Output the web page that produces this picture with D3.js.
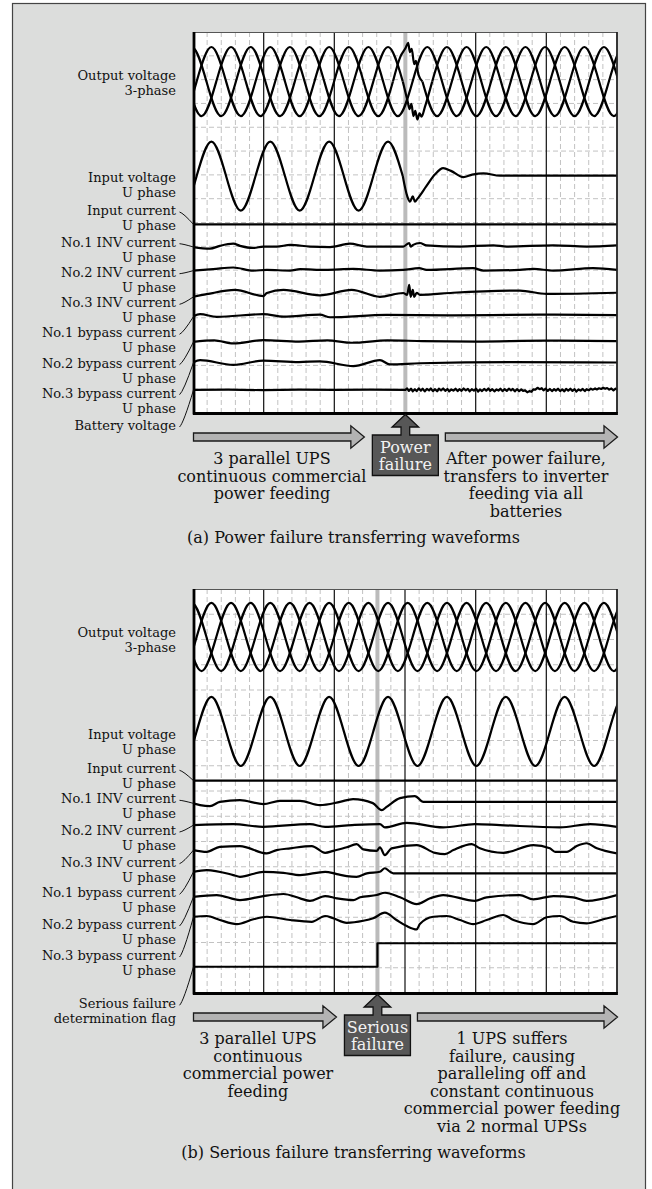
<!DOCTYPE html>
<html>
<head>
<meta charset="utf-8">
<script src="https://cdn.jsdelivr.net/npm/d3@7"></script>
<style>
  body { margin: 0; background: #fff; }
  text { font-family: "DejaVu Serif", serif; fill: #111; }
</style>
</head>
<body>
<svg id="chart" width="652" height="1189"></svg>
<script>
// time in ms, 20 ms per division (60 Hz mains); values in per unit or in grid divisions
var timeTicks = [0, 20, 40, 60, 80, 100, 120];

// sine waves, read at peaks and zero crossings
var outVoltU = [[-7.3,0],[-3.13,-1],[1.03,0],[5.2,1],[9.37,0],[13.53,-1],[17.7,0],[21.87,1],[26.03,0],[30.2,-1],[34.37,0],[38.53,1],[42.7,0],[46.87,-1],[51.03,0],[55.2,1],[59.37,0],[63.53,-1],[67.7,0],[71.87,1],[76.03,0],[80.2,-1],[84.37,0],[88.53,1],[92.7,0],[96.87,-1],[101.03,0],[105.2,1],[109.37,0],[113.53,-1],[117.7,0],[121.87,1],[126.03,0]];
var outVoltV = [[-1.74,0],[2.43,-1],[6.59,0],[10.76,1],[14.93,0],[19.09,-1],[23.26,0],[27.43,1],[31.59,0],[35.76,-1],[39.93,0],[44.09,1],[48.26,0],[52.43,-1],[56.59,0],[60.76,1],[64.93,0],[69.09,-1],[73.26,0],[77.43,1],[81.59,0],[85.76,-1],[89.93,0],[94.09,1],[98.26,0],[102.43,-1],[106.59,0],[110.76,1],[114.93,0],[119.09,-1],[123.26,0]];
var outVoltW = [[-4.52,0],[-0.35,1],[3.81,0],[7.98,-1],[12.14,0],[16.31,1],[20.48,0],[24.65,-1],[28.81,0],[32.98,1],[37.15,0],[41.31,-1],[45.48,0],[49.65,1],[53.81,0],[57.98,-1],[62.15,0],[66.31,1],[70.48,0],[74.65,-1],[78.81,0],[82.98,1],[87.15,0],[91.31,-1],[95.48,0],[99.65,1],[103.81,0],[107.98,-1],[112.15,0],[116.31,1],[120.48,0]];
var inVoltU = [[-7.3,0],[-3.13,-1],[1.03,0],[5.2,1],[9.37,0],[13.53,-1],[17.7,0],[21.87,1],[26.03,0],[30.2,-1],[34.37,0],[38.53,1],[42.7,0],[46.87,-1],[51.03,0],[55.2,1],[59.37,0],[63.53,-1],[67.7,0],[71.87,1],[76.03,0],[80.2,-1],[84.37,0],[88.53,1],[92.7,0],[96.87,-1],[101.03,0],[105.2,1],[109.37,0],[113.53,-1],[117.7,0],[121.87,1],[126.03,0]];

// (a) transients at the power failure
var outVoltUFail = [[59.37,0],[60.7,-0.55],[61.3,-0.8],[61.8,-0.65],[62.4,-1.0],[62.9,-0.85],[63.5,-1.1],[64.1,-0.92],[64.7,-1.02],[65.6,-0.75],[67.7,0]];
var outVoltVFail = [[56.59,0],[58.7,0.72],[60.2,0.98],[60.9,1.12],[61.4,0.85],[61.9,0.95],[62.6,0.5],[63.1,0.6],[63.8,0.2],[64.93,0]];
var inVoltUFail = [[59.37,0],[60.65,-0.59],[61.4,-0.74],[62.2,-0.59],[62.8,-0.74],[63.5,-0.66],[66,-0.3],[68.5,0.05],[70.8,0.23],[73,0.15],[76.5,-0.03],[79,0.04],[82.2,0.08],[86.9,0.01],[126,0.01]];

// (a) currents and battery voltage, in grid divisions
var inCurA = [[0,0],[120,0]];
var inv1A = [[0,-0.04],[4.8,-0.11],[7.6,0.01],[11.4,0.1],[13.3,0.01],[17.1,-0.08],[19.9,-0.02],[23.7,-0.02],[27.5,0.05],[33.1,-0.02],[38.8,-0.04],[44.4,0.1],[49.2,-0.02],[54.8,-0.02],[59.5,-0.02],[61.2,0.13],[61.6,-0.02],[62.3,0.05],[64.2,0.13],[66.1,0.03],[75.6,-0.02],[85,0.03],[88.8,-0.02],[102,0.03],[111.4,-0.02],[120,0.03]];
var inv2A = [[0,-0.03],[5.7,0.03],[11.4,0.1],[17.1,-0.03],[20.9,0],[27.5,-0.03],[30.3,0.03],[37.4,0],[45.4,0.04],[52.9,-0.03],[59.5,0],[64,0.07],[66.1,0],[79.3,0.07],[82.2,-0.03],[92.5,0],[96.3,0.04],[102,-0.03],[113.3,0.07],[120,0]];
var inv3A = [[0,-0.16],[3.9,-0.05],[11.9,0.13],[19.9,-0.13],[20.9,0],[25.6,0.13],[35.9,-0.1],[44.9,0.13],[52.9,-0.16],[59.5,0],[60.6,-0.08],[61.2,0.34],[61.6,-0.16],[62.2,0.13],[62.6,-0.16],[63.3,0.01],[64.2,-0.08],[73.6,0.01],[92.5,0.1],[100.1,-0.04],[120,0.01]];
var byp1A = [[0,-0.05],[2,0.05],[6.7,-0.06],[19.9,0.05],[25.6,-0.05],[35.9,0.03],[38.8,-0.08],[54.8,0.02],[72.7,0],[98.2,0.03],[120,0.01]];
var byp2A = [[0,-0.03],[6,0.03],[11.4,-0.1],[19.9,0.04],[30,-0.02],[38,0.03],[45,-0.07],[55,0.03],[65,0],[80,-0.02],[100,0.02],[120,0]];
var byp3A = [[0,0],[2,0.1],[11.4,-0.1],[19.9,0.08],[30,0.02],[35.9,0.05],[45.4,-0.15],[52.9,0.1],[55.7,-0.08],[64.2,-0.03],[90,0.02],[120,0]];
var battA = [[0,0],[10,0.01],[20,-0.01],[30,0.01],[40,0],[50,0.01],[60.1,0],[60.6,0.06],[61.1,-0.04],[61.7,0.05],[62.2,-0.06],[62.8,0.03],[63.3,-0.05],[63.9,0.06],[64.5,-0.03],[65,0.05],[65.6,-0.06],[66.2,0.04],[66.8,-0.02],[67.3,0.06],[67.9,-0.05],[68.5,0.03],[69.1,-0.06],[69.6,0.05],[70.2,-0.02],[70.8,0.06],[71.4,-0.04],[72,0.04],[72.5,-0.06],[73.1,0.02],[73.7,-0.03],[74.3,0.05],[74.9,-0.05],[75.4,0.03],[76,-0.04],[76.6,0.06],[77.2,-0.02],[77.8,0.04],[78.3,-0.06],[78.9,0.03],[79.5,-0.03],[80.1,0.05],[80.7,-0.07],[81.2,0.02],[81.8,-0.05],[82.4,0.04],[83,-0.03],[83.6,0.06],[84.1,-0.04],[84.7,0.03],[85.3,-0.06],[85.9,0.02],[86.5,-0.03],[87,0.05],[87.6,-0.05],[88.2,0.03],[88.8,-0.04],[89.4,0.05],[90,-0.02],[90.5,0.04],[91.1,-0.06],[91.7,0.03],[92.3,-0.05],[92.9,0.02],[93.4,-0.04],[94,-0.02],[94.6,-0.1],[95.2,-0.05],[95.8,-0.08],[96.3,0.02],[96.9,0.01],[97.5,0.09],[98.1,0.03],[98.7,0.07],[99.2,-0.02],[99.8,0.05],[100.4,-0.04],[101,0.04],[101.6,-0.05],[102.2,0.03],[102.7,-0.03],[103.3,0.05],[103.9,-0.05],[104.5,0.02],[105.1,-0.06],[105.6,0.04],[106.2,-0.03],[106.8,0.05],[107.4,-0.04],[108,0.03],[108.5,-0.07],[109.1,0.02],[109.7,-0.03],[110.3,0.04],[110.9,-0.05],[111.4,0.03],[112,-0.02],[112.6,0.05],[113.2,0.01],[113.8,0.06],[114.3,0.02],[114.9,0.07],[115.5,0.04],[116.1,0.09],[116.7,0.05],[117.2,0.08],[117.8,0.01],[118.4,0.06],[119,-0.02],[119.6,0.05],[120,0.01]];

// (b) currents and failure flag
var inCurB = [[0,0],[120,0]];
var inv1B = [[0,-0.05],[2,-0.12],[4.8,-0.16],[7.6,0.01],[13.3,0.08],[19.9,-0.08],[24.6,0.05],[30.3,0.05],[35.9,-0.12],[41.6,0.01],[45.3,0.12],[50.9,-0.04],[53.4,-0.32],[54.8,-0.19],[58.6,0.16],[62.8,0.24],[65.2,0.01],[120,0.01]];
var inv2B = [[0,0.02],[11.4,0.06],[19.8,-0.05],[33.1,0.06],[37.4,-0.05],[45,0.02],[52.9,0.06],[54.3,-0.07],[60.5,0.11],[70.8,-0.07],[79.8,0.06],[86.9,0.02],[103.9,-0.07],[112.4,0.06],[120,-0.05]];
var inv3B = [[0,-0.04],[3.9,-0.11],[7.6,0.09],[13.3,0.12],[20.9,-0.17],[23.7,-0.04],[27.5,0.03],[33.6,0.12],[37.4,-0.15],[39.7,-0.07],[43.5,0.07],[46.3,0.2],[48.2,-0.01],[52,-0.07],[52.9,0.07],[54.3,-0.24],[56.2,0.03],[63.3,0.16],[68.5,-0.15],[71.3,-0.2],[73.7,-0.04],[78.9,0.2],[81.2,0.03],[87.8,-0.15],[96.3,0.16],[101,0.03],[102.5,-0.11],[105.8,-0.11],[108.6,0.12],[111.4,0.23],[114.3,0.03],[120,-0.17]];
var byp1B = [[0,0.03],[3.9,0.1],[11.4,-0.1],[13.3,-0.17],[19.9,0.03],[25.6,-0.01],[30.3,-0.1],[37.4,0.03],[40.7,-0.06],[43.5,-0.14],[46.3,-0.17],[49.2,-0.03],[52.9,0.03],[54.3,0.17],[55.8,0.03],[56.7,-0.03],[120,-0.03]];
var byp2B = [[0,0.01],[6.7,0.08],[13.3,-0.12],[19.9,0.04],[25.6,0.12],[30.3,-0.05],[33.1,-0.15],[37.4,0.04],[40.7,-0.05],[45.4,-0.12],[47.3,-0.01],[52,0.08],[54.3,0.17],[58.6,-0.01],[63.3,-0.28],[67.1,-0.05],[70.8,0.08],[79.8,-0.15],[83.1,-0.01],[92.5,0.08],[96.3,-0.09],[102,0.04],[107.6,-0.01],[111.4,-0.15],[120,0.08]];
var byp3B = [[0,0.09],[3.9,0.12],[7.6,-0.04],[12.4,-0.2],[17.1,-0.01],[20.9,0.09],[27.5,-0.04],[33.6,-0.11],[37.4,0.12],[39.7,0.03],[43.5,-0.15],[48.2,-0.07],[51,0.03],[54.3,0.25],[57.6,-0.04],[60.5,-0.28],[63.3,-0.41],[64.2,-0.2],[68,0.09],[71.8,0.12],[75.6,-0.04],[79.3,-0.2],[83.1,-0.04],[87.8,0.16],[90.7,-0.04],[96.3,-0.2],[100.1,0.07],[103.9,0.12],[107.6,-0.11],[111.4,-0.17],[116.1,-0.01],[120,0.12]];
var flagB = [[0,0],[52.2,1],[120,1]];

// event times (ms)
var failTimeA = 60.1;
var failTimeB = 52.2;

// texts
var labelsA = [["Output voltage","3-phase"],["Input voltage","U phase"],["Input current","U phase"],["No.1 INV current","U phase"],["No.2 INV current","U phase"],["No.3 INV current","U phase"],["No.1 bypass current","U phase"],["No.2 bypass current","U phase"],["No.3 bypass current","U phase"],["Battery voltage"]];
var labelsB = [["Output voltage","3-phase"],["Input voltage","U phase"],["Input current","U phase"],["No.1 INV current","U phase"],["No.2 INV current","U phase"],["No.3 INV current","U phase"],["No.1 bypass current","U phase"],["No.2 bypass current","U phase"],["No.3 bypass current","U phase"],["Serious failure","determination flag"]];
var notesA = { left: ["3 parallel UPS","continuous commercial","power feeding"], box: ["Power","failure"], right: ["After power failure,","transfers to inverter","feeding via all","batteries"], caption: "(a) Power failure transferring waveforms" };
var notesB = { left: ["3 parallel UPS","continuous","commercial power","feeding"], box: ["Serious","failure"], right: ["1 UPS suffers","failure, causing","paralleling off and","constant continuous","commercial power feeding","via 2 normal UPSs"], caption: "(b) Serious failure transferring waveforms" };

var natural = d3.curveNatural, smooth = d3.curveMonotoneX, straight = d3.curveLinear;

var panelA = {
  id: "clipA", top: 32, height: 381, failAt: failTimeA, labels: labelsA, notes: notesA,
  labelY: [80, 181.7, 215, 246.7, 276.7, 307.3, 337.3, 367.7, 397.7, 430],
  leaders: [null, null, 4, 5, 6, 7, 8, 9, 10, 11],
  traces: [
    { data: outVoltU, base: 2.08, gain: 1.45, curve: natural, patch: outVoltUFail },
    { data: outVoltV, base: 2.08, gain: 1.45, curve: natural, patch: outVoltVFail },
    { data: outVoltW, base: 2.08, gain: 1.45, curve: natural },
    { data: inVoltU, base: 6.05, gain: 1.45, curve: natural, patch: inVoltUFail },
    { data: inCurA, base: 8.08, gain: 1, curve: straight },
    { data: inv1A, base: 8.99, gain: 1, curve: smooth },
    { data: inv2A, base: 9.99, gain: 1, curve: smooth },
    { data: inv3A, base: 10.96, gain: 1, curve: smooth },
    { data: byp1A, base: 11.9, gain: 1, curve: smooth },
    { data: byp2A, base: 12.98, gain: 1, curve: smooth },
    { data: byp3A, base: 13.88, gain: 1, curve: smooth },
    { data: battA, base: 15.03, gain: 1, curve: straight }
  ]
};

var panelB = {
  id: "clipB", top: 589, height: 404, failAt: failTimeB, labels: labelsB, notes: notesB,
  labelY: [637.3, 739, 773.3, 803.3, 835, 866.7, 897.3, 929, 960, 1008.3],
  leaders: [null, null, 4, 5, 6, 7, 8, 9, 10, 11],
  traces: [
    { data: outVoltU, base: 1.9, gain: 1.35, curve: natural },
    { data: outVoltV, base: 1.9, gain: 1.35, curve: natural },
    { data: outVoltW, base: 1.9, gain: 1.35, curve: natural },
    { data: inVoltU, base: 5.64, gain: 1.37, curve: natural },
    { data: inCurB, base: 7.59, gain: 1, curve: straight },
    { data: inv1B, base: 8.44, gain: 1, curve: smooth },
    { data: inv2B, base: 9.37, gain: 1, curve: smooth },
    { data: inv3B, base: 10.3, gain: 1, curve: smooth },
    { data: byp1B, base: 11.23, gain: 1, curve: smooth },
    { data: byp2B, base: 12.2, gain: 1, curve: smooth },
    { data: byp3B, base: 13.07, gain: 1, curve: smooth },
    { data: flagB, base: 14.96, gain: 0.93, curve: d3.curveStepAfter }
  ]
};

var svg = d3.select("#chart");
var plotLeft = 193, plotRight = 617;

svg.append("rect")
  .attr("x", 12.5).attr("y", 3.5).attr("width", 633).attr("height", 1200)
  .attr("fill", "#dcdddc").attr("stroke", "#444").attr("stroke-width", 1.2);

// split a trace into the clean part and the patched transient
function segments(tr) {
  if (!tr.patch) return [{ data: tr.data, curve: tr.curve }];
  var t0 = tr.patch[0][0], t1 = tr.patch[tr.patch.length - 1][0];
  return [
    { data: tr.data.filter(function(d) { return d[0] <= t0; }), curve: tr.curve },
    { data: tr.patch, curve: smooth },
    { data: tr.data.filter(function(d) { return d[0] >= t1; }), curve: tr.curve }
  ];
}

function drawPanel(p) {
  var bottom = p.top + p.height;
  var x = d3.scaleLinear().domain([0, 120]).range([plotLeft, plotRight]);
  var y = d3.scaleLinear().domain([0, 16]).range([p.top, bottom]);
  var g = svg.append("g");

  g.append("rect").attr("x", plotLeft).attr("y", p.top)
    .attr("width", plotRight - plotLeft).attr("height", p.height).attr("fill", "#fff");

  // dashed minor grid
  g.selectAll(null)
    .data(d3.range(4, 120, 4).filter(function(t) { return t % 20 !== 0; }))
    .enter().append("line")
    .attr("x1", function(t) { return x(t); }).attr("x2", function(t) { return x(t); })
    .attr("y1", p.top).attr("y2", bottom)
    .attr("stroke", "#c2c2c2").attr("stroke-width", 1).attr("stroke-dasharray", "5,3");
  g.selectAll(null)
    .data(d3.range(1, 16))
    .enter().append("line")
    .attr("x1", plotLeft).attr("x2", plotRight)
    .attr("y1", function(r) { return y(r); }).attr("y2", function(r) { return y(r); })
    .attr("stroke", "#c2c2c2").attr("stroke-width", 1).attr("stroke-dasharray", "5,3");

  // major divisions
  g.selectAll(null)
    .data(timeTicks.slice(1, -1))
    .enter().append("line")
    .attr("x1", function(t) { return x(t); }).attr("x2", function(t) { return x(t); })
    .attr("y1", p.top).attr("y2", bottom)
    .attr("stroke", "#222").attr("stroke-width", 1.3);

  // event marker
  g.append("line")
    .attr("x1", x(p.failAt)).attr("x2", x(p.failAt))
    .attr("y1", p.top).attr("y2", bottom)
    .attr("stroke", "#bbbbbb").attr("stroke-width", 4);

  svg.append("clipPath").attr("id", p.id).append("rect")
    .attr("x", plotLeft).attr("y", p.top).attr("width", plotRight - plotLeft).attr("height", p.height);

  var tg = g.append("g").attr("clip-path", "url(#" + p.id + ")");
  p.traces.forEach(function(tr) {
    var line = d3.line()
      .x(function(d) { return x(d[0]); })
      .y(function(d) { return y(tr.base - d[1] * tr.gain); });
    segments(tr).forEach(function(s) {
      tg.append("path")
        .attr("d", line.curve(s.curve)(s.data))
        .attr("fill", "none").attr("stroke", "#000")
        .attr("stroke-width", 2.2).attr("stroke-linejoin", "round");
    });
  });

  // frame
  g.append("line").attr("x1", plotLeft).attr("x2", plotRight).attr("y1", p.top + 0.5).attr("y2", p.top + 0.5)
    .attr("stroke", "#555").attr("stroke-width", 1);
  g.append("line").attr("x1", plotRight).attr("x2", plotRight).attr("y1", p.top).attr("y2", bottom)
    .attr("stroke", "#222").attr("stroke-width", 1.8);
  g.append("line").attr("x1", plotLeft + 1).attr("x2", plotLeft + 1).attr("y1", p.top).attr("y2", bottom + 1.5)
    .attr("stroke", "#000").attr("stroke-width", 2.8);
  g.append("line").attr("x1", plotLeft).attr("x2", plotRight + 0.9).attr("y1", bottom + 0.5).attr("y2", bottom + 0.5)
    .attr("stroke", "#000").attr("stroke-width", 2.8);

  // labels and leader lines
  p.labels.forEach(function(lines, i) {
    var t = g.append("text").attr("text-anchor", "end").attr("font-size", 13);
    lines.forEach(function(s, k) {
      t.append("tspan").attr("x", 176).attr("y", p.labelY[i] + k * 15).text(s);
    });
    var ti = p.leaders[i];
    if (ti !== null) {
      var tr = p.traces[ti];
      var x0 = 179.5, y0 = p.labelY[i] - 3;
      var x1 = plotLeft + 0.5, y1 = y(tr.base - tr.data[0][1] * tr.gain);
      g.append("path")
        .attr("d", "M" + x0 + "," + y0 + " Q" + (x0 + 4) + "," + (y0 + (y1 - y0) * 0.1) + " " + x1 + "," + y1)
        .attr("fill", "none").attr("stroke", "#111").attr("stroke-width", 1);
    }
  });

  // annotation arrows
  var cx = x(p.failAt);
  var boxW = 66, boxTop = bottom + 22, boxH = 40.5;
  var bl = cx - boxW / 2, br = cx + boxW / 2;
  var ay = bottom + 24;
  function hArrow(xa, xb) {
    var hb = xb - 13.5;
    return [[xa, ay - 4], [hb, ay - 4], [hb, ay - 11.2], [xb, ay], [hb, ay + 11.2], [hb, ay + 4], [xa, ay + 4]];
  }
  var leftA = hArrow(plotLeft + 0.5, bl - 8);
  var rightA = hArrow(br + 7, plotRight + 0.5);
  [leftA, rightA].forEach(function(pts) {
    g.append("path").attr("d", d3.line()(pts) + "Z")
      .attr("fill", "#b3b3b3").attr("stroke", "#1a1a1a").attr("stroke-width", 1.3);
  });

  var hs = 4.35, hw = 13.3, hy = bottom + 14;
  var boxPts = [[bl, boxTop + boxH], [bl, boxTop], [cx - hs, boxTop], [cx - hs, hy], [cx - hw, hy], [cx, bottom + 1.5],
    [cx + hw, hy], [cx + hs, hy], [cx + hs, boxTop], [br, boxTop], [br, boxTop + boxH]];
  g.append("path").attr("d", d3.line()(boxPts) + "Z")
    .attr("fill", "#575757").attr("stroke", "#111").attr("stroke-width", 1.3);
  p.notes.box.forEach(function(s, k) {
    g.append("text").attr("x", cx).attr("y", boxTop + 17.5 + k * 17.5)
      .attr("text-anchor", "middle").attr("font-size", 16).style("fill", "#f2f2f2").text(s);
  });

  var lc = (leftA[0][0] + leftA[3][0]) / 2 - 7;
  var rc = (rightA[0][0] + rightA[3][0]) / 2 - 5.5;
  var ty = bottom + 51;
  p.notes.left.forEach(function(s, k) {
    g.append("text").attr("x", lc).attr("y", ty + k * 17.6).attr("text-anchor", "middle").attr("font-size", 16).text(s);
  });
  p.notes.right.forEach(function(s, k) {
    g.append("text").attr("x", rc).attr("y", ty + k * 17.6).attr("text-anchor", "middle").attr("font-size", 16).text(s);
  });
  var nLines = Math.max(p.notes.left.length, p.notes.right.length);
  g.append("text").attr("x", 353.5).attr("y", ty + (nLines - 1) * 17.6 + 26)
    .attr("text-anchor", "middle").attr("font-size", 16).text(p.notes.caption);
}

drawPanel(panelA);
drawPanel(panelB);
</script>
</body>
</html>
